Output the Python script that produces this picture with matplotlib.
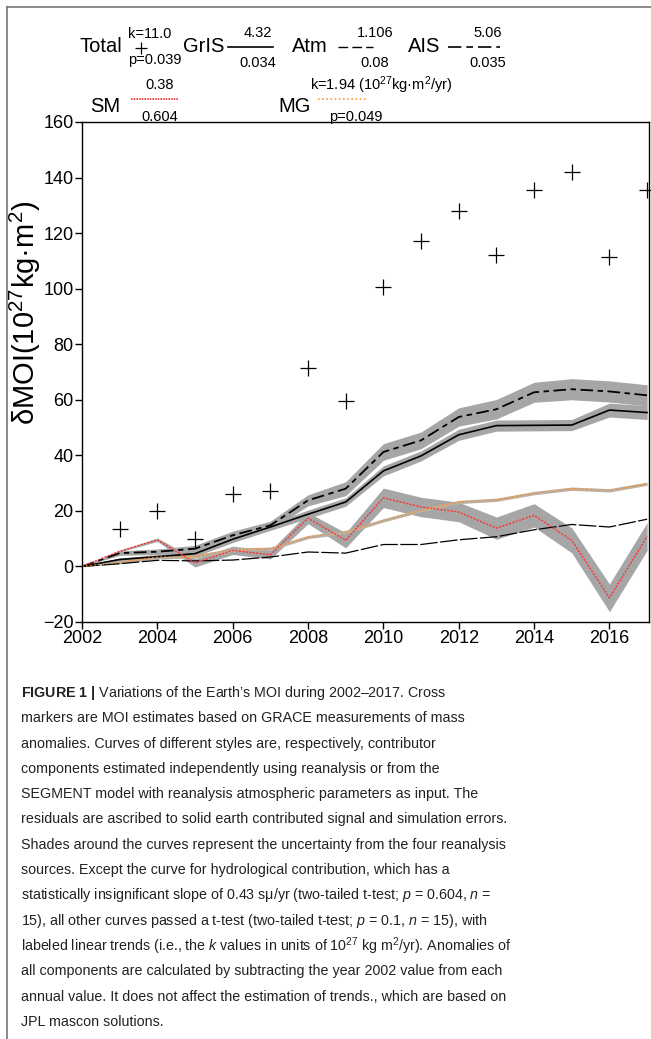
import numpy as np
import matplotlib
matplotlib.use('Agg')
import matplotlib.pyplot as plt
from matplotlib.lines import Line2D

plt.rcParams['font.family'] = ['Liberation Sans', 'DejaVu Sans']
plt.rcParams['mathtext.fontset'] = 'custom'
plt.rcParams['mathtext.rm'] = 'Liberation Sans'
plt.rcParams['mathtext.it'] = 'Liberation Sans:italic'
plt.rcParams['mathtext.bf'] = 'Liberation Sans:bold'

years = np.arange(2002, 2018)

total = [np.nan, 13.5, 20, 10, 26, 27, 71.5, 59.5, 100.5, 117, 128, 112, 135.5, 142, 111.5, 135.6]
gris = [0, 2.5, 3.5, 4.6, 9.8, 14.2, 18.8, 23.2, 34.4, 39.8, 47.4, 50.7, 50.8, 50.9, 56.3, 55.4]
gris_err = [0, 0.5, 0.8, 1.0, 1.2, 1.2, 1.5, 1.5, 1.8, 1.8, 2.0, 2.0, 2.0, 2.0, 2.5, 2.5]
atm = [0, 1.0, 2.2, 2.0, 2.3, 3.4, 5.2, 4.8, 7.9, 7.9, 9.6, 10.7, 13.2, 15.1, 14.2, 17.0]
ais = [0, 4.8, 5.3, 6.4, 11.2, 14.8, 23.8, 28.0, 41.2, 45.4, 53.8, 56.6, 62.7, 63.8, 63.0, 61.6]
ais_err = [0, 0.8, 1.0, 1.2, 1.5, 1.5, 2.0, 2.5, 3.0, 3.0, 3.3, 3.5, 3.6, 3.8, 3.8, 3.8]
sm = [0, 5.5, 9.6, 1.3, 5.8, 4.2, 17.4, 9.4, 24.7, 21.4, 19.6, 13.8, 18.4, 9.4, -11.3, 10.8]
sm_err = [0, 0.3, 0.6, 1.5, 1.5, 1.5, 2.0, 2.7, 3.5, 3.5, 3.5, 4.0, 4.2, 4.5, 5.0, 5.0]
mg = [0, 1.5, 3.4, 3.6, 6.0, 6.4, 10.6, 12.4, 16.6, 20.2, 23.2, 24.0, 26.4, 28.0, 27.4, 29.8]
mg_err = [0, 0.6, 0.6, 0.6, 0.6, 0.6, 0.6, 0.6, 0.6, 0.6, 0.6, 0.6, 0.6, 0.6, 0.6, 0.6]

caption = [
    "$\\bf{FIGURE\\ 1\\ |}$ Variations of the Earth\u2019s MOI during 2002\u20132017. Cross",
    "markers are MOI estimates based on GRACE measurements of mass",
    "anomalies. Curves of different styles are, respectively, contributor",
    "components estimated independently using reanalysis or from the",
    "SEGMENT model with reanalysis atmospheric parameters as input. The",
    "residuals are ascribed to solid earth contributed signal and simulation errors.",
    "Shades around the curves represent the uncertainty from the four reanalysis",
    "sources. Except the curve for hydrological contribution, which has a",
    "statistically insignificant slope of 0.43 s\u03bc/yr (two-tailed t-test; $\\it{p}$ = 0.604, $\\it{n}$ =",
    "15), all other curves passed a t-test (two-tailed t-test; $\\it{p}$ = 0.1, $\\it{n}$ = 15), with",
    "labeled linear trends (i.e., the $\\it{k}$ values in units of 10$^{27}$ kg m$^{2}$/yr). Anomalies of",
    "all components are calculated by subtracting the year 2002 value from each",
    "annual value. It does not affect the estimation of trends., which are based on",
    "JPL mascon solutions.",
]

W, H = 651, 1039
fig = plt.figure(figsize=(W / 100, H / 100), dpi=100)


def P(x, y):
    return x / W, 1 - y / H


def hline(x1, x2, y, **kw):
    fig.add_artist(Line2D([x1 / W, x2 / W], [1 - y / H] * 2, transform=fig.transFigure, **kw))


shade = '#a6a6a6'
ax = fig.add_axes([82 / W, 1 - 622 / H, (649 - 82) / W, (622 - 122) / H])
ax.fill_between(years, np.array(ais) - ais_err, np.array(ais) + ais_err, color=shade, lw=0)
ax.fill_between(years, np.array(gris) - gris_err, np.array(gris) + gris_err, color=shade, lw=0)
ax.fill_between(years, np.array(sm) - sm_err, np.array(sm) + sm_err, color=shade, lw=0)
ax.fill_between(years, np.array(mg) - mg_err, np.array(mg) + mg_err, color='#bcb0a2', lw=0)
ax.plot(years, ais, color='k', lw=1.3, ls=(0, (7, 2.5, 3, 2.5)))
ax.plot(years, gris, color='k', lw=1.2)
ax.plot(years, atm, color='k', lw=0.9, ls=(0, (14, 2)))
ax.plot(years, sm, color='#ff3030', lw=1.0, ls=(0, (1.5, 1)))
ax.plot(years, mg, color='#ff8c1a', lw=1.0, ls=(0, (1, 2)))
ax.plot(years, total, ls='none', marker='+', ms=11, mew=0.9, color='k', clip_on=False)

ax.set_xlim(2002, 2017.05)
ax.set_ylim(-20, 160)
ax.set_xticks(np.arange(2002, 2017, 2))
ax.set_yticks(np.arange(-20, 161, 20))
ax.set_yticklabels(['\u221220'] + [str(v) for v in range(0, 161, 20)])
ax.tick_params(direction='out', length=5, width=1, labelsize=13, top=False, right=False, pad=1)
for s in ax.spines.values():
    s.set_linewidth(1.0)
ax.set_ylabel('\u03b4MOI(10$^{27}$kg\u00b7m$^{2}$)', fontsize=21)
ax.yaxis.set_label_coords(-0.068, 0.618)

# legend drawn by hand at the top
big = 14.5
small = 10.5
fig.text(*P(80, 52), 'Total', fontsize=big, va='baseline')
fig.text(*P(128, 34), 'k=11.0', fontsize=small, va='center')
fig.add_artist(Line2D([141 / W], [1 - 48 / H], marker='+', ms=9, mew=0.9, color='k',
                      transform=fig.transFigure))
fig.text(*P(128, 60), 'p=0.039', fontsize=small, va='center')
fig.text(*P(183, 52), 'GrIS', fontsize=big, va='baseline')
fig.text(*P(258, 33), '4.32', fontsize=small, va='center', ha='center')
fig.text(*P(258, 63), '0.034', fontsize=small, va='center', ha='center')
hline(228, 273, 47, color='k', lw=1.2)
fig.text(*P(292, 52), 'Atm', fontsize=big, va='baseline')
fig.text(*P(375, 33), '1.106', fontsize=small, va='center', ha='center')
fig.text(*P(375, 63), '0.08', fontsize=small, va='center', ha='center')
hline(338, 373, 47, color='k', lw=1.0, ls=(0, (7, 3)))
fig.text(*P(408, 52), 'AIS', fontsize=big, va='baseline')
fig.text(*P(488, 33), '5.06', fontsize=small, va='center', ha='center')
fig.text(*P(488, 63), '0.035', fontsize=small, va='center', ha='center')
hline(448, 500, 47, color='k', lw=1.2, ls=(0, (8, 3, 4, 3)))

fig.text(*P(90, 112), 'SM', fontsize=big, va='baseline')
fig.text(*P(160, 85), '0.38', fontsize=small, va='center', ha='center')
fig.text(*P(160, 117), '0.604', fontsize=small, va='center', ha='center')
hline(131, 178, 99, color='#ff3030', lw=1.2, ls=(0, (1, 0.6)))
fig.text(*P(278, 112), 'MG', fontsize=big, va='baseline')
fig.text(*P(310, 85), 'k=1.94 (10$^{27}$kg\u00b7m$^{2}$/yr)', fontsize=small, va='center')
fig.text(*P(356, 117), 'p=0.049', fontsize=small, va='center', ha='center')
hline(318, 366, 99, color='#ff9933', lw=1.2, ls=(0, (1, 1.5)))

# caption
for i, line in enumerate(caption):
    fig.text(*P(21, 693 + i * 25.3), line, fontsize=10.3, va='center', color='#222222')

# frame lines
hline(7, W, 7, color='#777777', lw=1.2)
fig.add_artist(Line2D([7 / W] * 2, [1 - 7 / H, 0], color='#777777', lw=1.2, transform=fig.transFigure))

fig.savefig('out.png', dpi=100)
